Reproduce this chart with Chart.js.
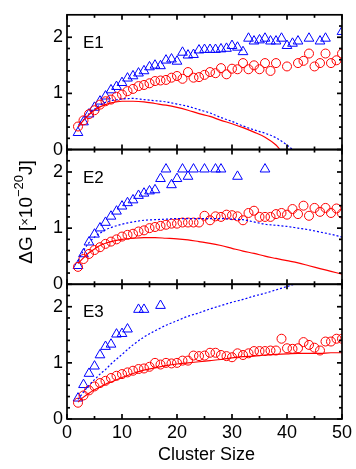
<!DOCTYPE html>
<html><head><meta charset="utf-8">
<script src="https://cdn.jsdelivr.net/npm/chart.js@4"></script>
<style>html,body{margin:0;padding:0;background:#fff;overflow:hidden}#wrap{width:356px;height:469px;position:relative}</style>
</head><body><div id="wrap"><canvas id="c" width="356" height="469"></canvas></div>
<script>
// ---- data ----
const clusterSizes = [2,3,4,5,6,7,8,9,10,11,12,13,14,15,16,17,18,19,20,21,22,23,24,25,26,27,28,29,30,31,32,33,34,35,36,37,38,39,40,41,42,43,44,45,46,47,48,49,50];

const e1Triangles = [0.30,0.49,0.63,0.75,0.86,0.95,1.06,1.12,1.19,1.27, 1.31,1.36,1.40,1.47,1.50,1.49,1.59,1.61,1.57,1.73, 1.68,1.69,1.77,1.78,1.78,1.78,1.79,1.80,1.85,1.82, 1.74,1.98,1.93,1.95,1.98,1.93,1.93,1.98,1.85,1.89, 1.93,null,1.98,null,1.93,1.98,null,null,2.10];
const e1Circles = [0.41,0.52,0.63,0.70,0.80,0.86,0.89,0.94,0.98,1.04, 1.08,1.13,1.15,1.18,1.22,1.23,1.24,1.28,1.31,1.26, 1.38,1.28,1.29,1.33,1.38,1.36,1.45,1.34,1.44,1.43, 1.54,1.43,1.50,1.43,1.54,1.40,1.54,null,1.48,null, 1.54,1.58,1.71,1.48,1.54,1.71,1.54,1.59,1.71];

const e2Triangles = [0.33,0.54,0.75,0.89,1.00,1.10,1.21,1.30,1.39,1.45, 1.50,1.58,1.62,1.66,1.68,1.88,2.05,1.77,1.88,2.05, 1.92,2.05,null,2.05,null,2.05,2.05,null,null,1.92, null,null,null,null,2.05,null,null,null,null,null, null,null,null,null,null,null,null,null,null];
const e2Circles = [0.31,0.45,0.54,0.61,0.66,0.72,0.76,0.80,0.85,0.88, 0.90,0.94,0.96,1.00,1.02,1.04,1.06,1.08,1.08,1.10, 1.10,1.10,1.10,1.22,1.14,1.21,1.20,1.24,1.23,1.21, 1.14,1.27,1.31,1.20,1.20,1.20,1.25,1.27,1.24,1.34, 1.25,1.40,1.22,1.36,1.29,1.36,1.27,1.35,1.26];

const e3Triangles = [0.37,0.61,0.81,0.94,1.14,1.29,1.33,1.51,1.52,1.60, null,1.95,1.95,null,null,2.02,null,null,null,null, null,null,null,null,null,null,null,null,null,null, null,null,null,null,null,null,null,null,null,null, null,null,null,null,null,null,null,null,null];
const e3Circles = [0.29,0.42,0.51,0.58,0.64,0.68,0.73,0.77,0.80,0.83, 0.86,0.89,0.90,0.93,1.00,0.97,1.00,0.99,1.00,1.04, 1.04,1.13,1.12,1.13,1.18,1.18,1.14,1.12,1.10,1.17, 1.14,1.17,1.21,1.21,1.21,1.22,1.22,1.43,1.26,1.25, 1.26,1.37,1.32,1.27,1.22,1.38,1.38,1.43,1.43];

// model curves
const curveSizes = [2,3,4,5,6,7,8,10,12,14,16,18,20,22,24,26,28,30,32,34,36,38,40,42,44,46,48,50];
const e1RedSizes = [2,3,4,5,6,7,8,10,12,14,16,18,20,22,24,26,28,30,32,34,36,38,38.7];
const e1RedCurve = [0.40,0.52,0.62,0.70,0.76,0.80,0.83,0.86,0.86,0.85,0.82,0.79,0.75,0.70,0.64,0.59,0.52,0.46,0.39,0.31,0.22,0.08,0];
const e1BlueSizes = [2,3,4,5,6,7,8,10,12,14,16,18,20,22,24,26,28,30,32,34,36,38,40,41];
const e1BlueCurve = [0.40,0.53,0.64,0.72,0.79,0.84,0.87,0.90,0.91,0.89,0.87,0.85,0.81,0.77,0.71,0.65,0.57,0.50,0.42,0.35,0.29,0.21,0.08,0];
const e2RedCurve = [0.37,0.47,0.56,0.63,0.69,0.73,0.76,0.80,0.82,0.83,0.83,0.82,0.81,0.79,0.76,0.73,0.69,0.64,0.59,0.55,0.50,0.46,0.42,0.38,0.33,0.28,0.23,0.18];
const e2BlueCurve = [0.42,0.60,0.74,0.84,0.91,0.97,1.01,1.07,1.11,1.14,1.15,1.16,1.17,1.17,1.17,1.17,1.17,1.16,1.15,1.11,1.07,1.05,1.03,1.00,0.97,0.93,0.89,0.84];
const e3RedCurve = [0.30,0.39,0.46,0.52,0.57,0.62,0.66,0.74,0.81,0.87,0.91,0.95,0.98,1.00,1.02,1.04,1.06,1.09,1.11,1.12,1.14,1.15,1.16,1.17,1.17,1.17,1.18,1.18];
const e3BlueSizes = [2,3,4,5,6,7,8,10,12,14,16,18,20,22,24,26,28,30,32,34,36,38,40,41.3];
const e3BlueCurve = [0.35,0.48,0.60,0.70,0.80,0.88,0.98,1.15,1.32,1.46,1.57,1.67,1.75,1.83,1.89,1.96,2.02,2.08,2.13,2.19,2.24,2.30,2.36,2.40];

// ticks and labels
const xMajorTicks = [0,10,20,30,40,50];
const xMinorTicks = [5,15,25,35,45];
const yMajorTicks = [0,1,2];
const yMinorTicks = [0.2,0.4,0.6,0.8,1.2,1.4,1.6,1.8,2.2];
const panelNames = ['E1','E2','E3'];
const panelAxes = ['yE1','yE2','yE3'];
const xTitle = 'Cluster Size';

// ---- build ----
const BLUE = '#0000ff', RED = '#ff0000';
const FONT = '"Liberation Sans", Arial, sans-serif';
const pts = (xs, ys) => xs.map((x, i) => ({x, y: ys[i]})).filter(p => p.y !== null && p.y !== undefined);

function markers(vals, axis, style, color) {
  return {data: pts(clusterSizes, vals), yAxisID: axis, showLine: false,
    pointStyle: style, pointRadius: style === 'triangle' ? 5.6 : 4.5,
    pointBorderWidth: 1, borderColor: color, backgroundColor: 'rgba(0,0,0,0)',
    pointBackgroundColor: 'rgba(0,0,0,0)', pointBorderColor: color, pointHoverRadius: 0};
}
function curve(xs, vals, axis, color, dashed) {
  return {data: pts(xs, vals), yAxisID: axis, showLine: true, pointRadius: 0,
    borderColor: color, borderWidth: 1.2, borderDash: dashed ? [2, 2] : [],
    cubicInterpolationMode: 'monotone', fill: false};
}

const datasets = [
  curve(e1RedSizes, e1RedCurve, 'yE1', RED, false),
  curve(e1BlueSizes, e1BlueCurve, 'yE1', BLUE, true),
  markers(e1Circles, 'yE1', 'circle', RED),
  markers(e1Triangles, 'yE1', 'triangle', BLUE),
  curve(curveSizes, e2RedCurve, 'yE2', RED, false),
  curve(curveSizes, e2BlueCurve, 'yE2', BLUE, true),
  markers(e2Circles, 'yE2', 'circle', RED),
  markers(e2Triangles, 'yE2', 'triangle', BLUE),
  curve(curveSizes, e3RedCurve, 'yE3', RED, false),
  curve(e3BlueSizes, e3BlueCurve, 'yE3', BLUE, true),
  markers(e3Circles, 'yE3', 'circle', RED),
  markers(e3Triangles, 'yE3', 'triangle', BLUE)
];

function yScale(weight) {
  return {type: 'linear', position: 'left', stack: 'panels', stackWeight: 1, weight: weight,
    min: 0, max: 2.4,
    afterBuildTicks: s => { s.ticks = yMajorTicks.map(v => ({value: v})); },
    afterFit: s => { s.width = 67; },
    ticks: {color: '#000', font: {family: FONT, size: 18}, padding: 4, callback: v => String(v)},
    grid: {display: false, drawTicks: false}, border: {display: false}};
}

const framePlugin = {
  id: 'frame',
  afterDraw(chart) {
    const ctx = chart.ctx;
    const {left, right} = chart.chartArea;
    const xs = chart.scales.x;
    ctx.save();
    ctx.strokeStyle = '#000';
    ctx.lineWidth = 1.7;
    const seg = (x1, y1, x2, y2) => { ctx.beginPath(); ctx.moveTo(x1, y1); ctx.lineTo(x2, y2); ctx.stroke(); };
    panelAxes.forEach((id, i) => {
      const ys = chart.scales[id];
      const top = ys.top, bot = ys.bottom;
      ctx.strokeRect(left, top, right - left, bot - top);
      xMajorTicks.concat(xMinorTicks).forEach(v => {
        const px = xs.getPixelForValue(v);
        const L = xMajorTicks.includes(v) ? 5 : 3;
        seg(px, bot, px, bot - L); seg(px, top, px, top + L);
      });
      yMajorTicks.concat(yMinorTicks).forEach(v => {
        const py = ys.getPixelForValue(v);
        const L = yMajorTicks.includes(v) ? 5 : 3;
        seg(left, py, left + L, py); seg(right, py, right - L, py);
      });
      ctx.fillStyle = '#000';
      ctx.font = '17px ' + FONT;
      ctx.textAlign = 'left'; ctx.textBaseline = 'alphabetic';
      ctx.fillText(panelNames[i], left + 16, top + 33);
    });
    // x title
    ctx.font = '18px ' + FONT;
    ctx.textAlign = 'center';
    ctx.fillText(xTitle, (left + right) / 2 + 2, 460);
    // y title (rotated)
    const parts = [
      {t: 'ΔG [', s: 19, r: 0},
      {t: '×', s: 13, r: 3},
      {t: '10', s: 19, r: 0},
      {t: '−20', s: 13, r: 9},
      {t: 'J]', s: 19, r: 0}
    ];
    let total = 0;
    parts.forEach(p => { ctx.font = p.s + 'px ' + FONT; p.w = ctx.measureText(p.t).width; total += p.w; });
    ctx.translate(32, 212);
    ctx.rotate(-Math.PI / 2);
    ctx.textAlign = 'left';
    let x0 = -total / 2;
    parts.forEach(p => { ctx.font = p.s + 'px ' + FONT; ctx.fillText(p.t, x0, -p.r); x0 += p.w; });
    ctx.restore();
  }
};

new Chart(document.getElementById('c'), {
  type: 'scatter',
  data: {datasets},
  options: {
    responsive: false, animation: false, devicePixelRatio: 1,
    layout: {padding: {left: 0, right: 14, top: 5, bottom: 0}},
    plugins: {legend: {display: false}, tooltip: {enabled: false}},
    scales: {
      x: {type: 'linear', position: 'bottom', min: 0, max: 50,
        afterBuildTicks: s => { s.ticks = xMajorTicks.map(v => ({value: v})); },
        afterFit: s => { s.height = 50; },
        ticks: {color: '#000', font: {family: FONT, size: 18}, padding: 3, maxRotation: 0},
        grid: {display: false, drawTicks: false}, border: {display: false}},
      yE1: yScale(3),
      yE2: yScale(2),
      yE3: yScale(1)
    }
  },
  plugins: [framePlugin]
});
</script></body></html>
